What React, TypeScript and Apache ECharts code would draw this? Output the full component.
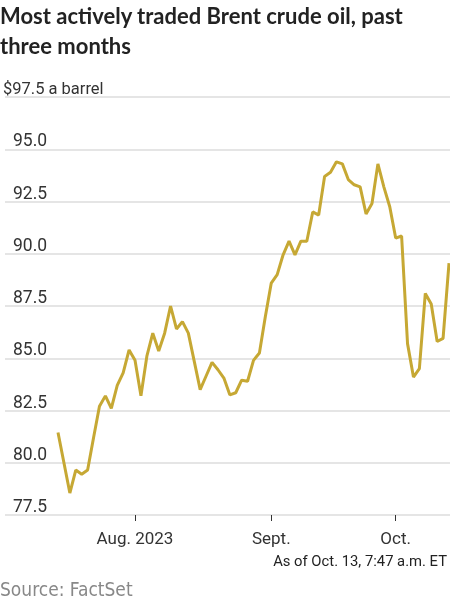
import React, { useEffect, useRef } from "react";
import * as echarts from "echarts";

const dates = [
  "2023-07-13", "2023-07-14", "2023-07-17", "2023-07-18", "2023-07-19", "2023-07-20", "2023-07-21",
  "2023-07-24", "2023-07-25", "2023-07-26", "2023-07-27", "2023-07-28", "2023-07-31",
  "2023-08-01", "2023-08-02", "2023-08-03", "2023-08-04", "2023-08-07", "2023-08-08", "2023-08-09",
  "2023-08-10", "2023-08-11", "2023-08-14", "2023-08-15", "2023-08-16", "2023-08-17", "2023-08-18",
  "2023-08-21", "2023-08-22", "2023-08-23", "2023-08-24", "2023-08-25", "2023-08-28", "2023-08-29",
  "2023-08-30", "2023-08-31",
  "2023-09-01", "2023-09-04", "2023-09-05", "2023-09-06", "2023-09-07", "2023-09-08", "2023-09-11",
  "2023-09-12", "2023-09-13", "2023-09-14", "2023-09-15", "2023-09-18", "2023-09-19", "2023-09-20",
  "2023-09-21", "2023-09-22", "2023-09-25", "2023-09-26", "2023-09-27", "2023-09-28", "2023-09-29",
  "2023-10-02", "2023-10-03", "2023-10-04", "2023-10-05", "2023-10-06", "2023-10-09", "2023-10-10",
  "2023-10-11", "2023-10-12", "2023-10-13",
];

const prices = [
  81.45, 80.0, 78.55, 79.65, 79.45, 79.65, 81.2,
  82.7, 83.2, 82.6, 83.7, 84.3, 85.4,
  84.9, 83.2, 85.1, 86.2, 85.35, 86.2, 87.5,
  86.4, 86.75, 86.2, 84.85, 83.5, 84.15, 84.8,
  84.45, 84.05, 83.25, 83.35, 83.95, 83.9, 84.9,
  85.25, 87.0,
  88.6, 89.0, 89.95, 90.6, 89.95, 90.6, 90.6,
  92.0, 91.85, 93.7, 93.9, 94.4, 94.3, 93.55,
  93.3, 93.2, 91.9, 92.4, 94.3, 93.2, 92.25,
  90.75, 90.85, 85.7, 84.1, 84.5, 88.1, 87.6,
  85.8, 85.95, 89.55,
];

const tickDates = ["2023-08-01", "2023-09-01", "2023-10-02"];
const tickLabels = ["Aug. 2023", "Sept.", "Oct."];

const yMin = 77.5;
const yMax = 97.5;
const yStep = 2.5;

const titleText = "Most actively traded Brent crude oil, past\nthree months";
const unitText = " a barrel";
const noteText = "As of Oct. 13, 7:47 a.m. ET";
const sourceText = "Source: FactSet";

const LABEL_FONT = "Roboto, sans-serif";
const SOURCE_FONT = '"DejaVu Sans Condensed", "DejaVu Sans", sans-serif';

export default function App() {
  const ref = useRef<HTMLDivElement>(null);
  useEffect(() => {
    if (!ref.current) return;
    const chart = echarts.init(ref.current, null, { renderer: "svg" });
    const gridTop = 97;
    const gridBottom = 85;
    chart.setOption({
      animation: false,
      title: [
        {
          text: titleText,
          left: 0,
          top: 0,
          padding: 0,
          textStyle: {
            fontFamily: "Lato, sans-serif",
            fontWeight: 700,
            fontSize: 22,
            lineHeight: 30,
            color: "#222",
          },
        },
        {
          text: noteText,
          right: 3,
          top: 553,
          padding: 0,
          textStyle: { fontFamily: LABEL_FONT, fontWeight: 400, fontSize: 14.8, color: "#222" },
        },
        {
          text: sourceText,
          left: 0,
          top: 579,
          padding: 0,
          textStyle: { fontFamily: SOURCE_FONT, fontWeight: 400, fontSize: 19, color: "#888" },
        },
      ],
      grid: [
        { left: 0, right: 0, top: gridTop, bottom: gridBottom },
        { left: 58, right: 1, top: gridTop, bottom: gridBottom },
      ],
      xAxis: [
        { type: "value", gridIndex: 0, show: false, min: 0, max: 1 },
        {
          type: "category",
          gridIndex: 1,
          data: dates,
          boundaryGap: false,
          axisLine: { show: false },
          axisTick: {
            show: true,
            length: 6,
            interval: (_i: number, v: string) => tickDates.indexOf(v) >= 0,
            lineStyle: { color: "#333", width: 1 },
          },
          axisLabel: {
            interval: (_i: number, v: string) => tickDates.indexOf(v) >= 0,
            formatter: (v: string) => {
              const k = tickDates.indexOf(v);
              return k >= 0 ? tickLabels[k] : "";
            },
            margin: 14,
            fontFamily: LABEL_FONT,
            fontSize: 17,
            color: "#333",
          },
          splitLine: { show: false },
        },
      ],
      yAxis: [
        {
          type: "value",
          gridIndex: 0,
          min: yMin,
          max: yMax,
          interval: yStep,
          axisLine: { show: false },
          axisTick: { show: false },
          splitLine: { show: true, lineStyle: { color: "#dcdcdc", width: 1.5 } },
          axisLabel: {
            inside: true,
            margin: -2,
            align: "left",
            verticalAlign: "bottom",
            formatter: (v: number) =>
              v === yMax ? "{t|$" + v.toFixed(1) + unitText + "}" : "{n|" + v.toFixed(1) + "}",
            rich: {
              t: { fontFamily: LABEL_FONT, fontSize: 16.5, color: "#333" },
              n: { fontFamily: LABEL_FONT, fontSize: 17.5, color: "#333", padding: [0, 0, 0, 10] },
            },
          },
        },
        { type: "value", gridIndex: 1, min: yMin, max: yMax, show: false },
      ],
      series: [
        {
          type: "line",
          xAxisIndex: 1,
          yAxisIndex: 1,
          data: prices,
          showSymbol: false,
          lineStyle: { color: "#c6a834", width: 3 },
          itemStyle: { color: "#c6a834" },
        },
      ],
    });
    return () => chart.dispose();
  }, []);
  return (
    <div
      ref={ref}
      style={{ position: "fixed", left: 0, top: 0, width: 450, height: 600 }}
    />
  );
}
